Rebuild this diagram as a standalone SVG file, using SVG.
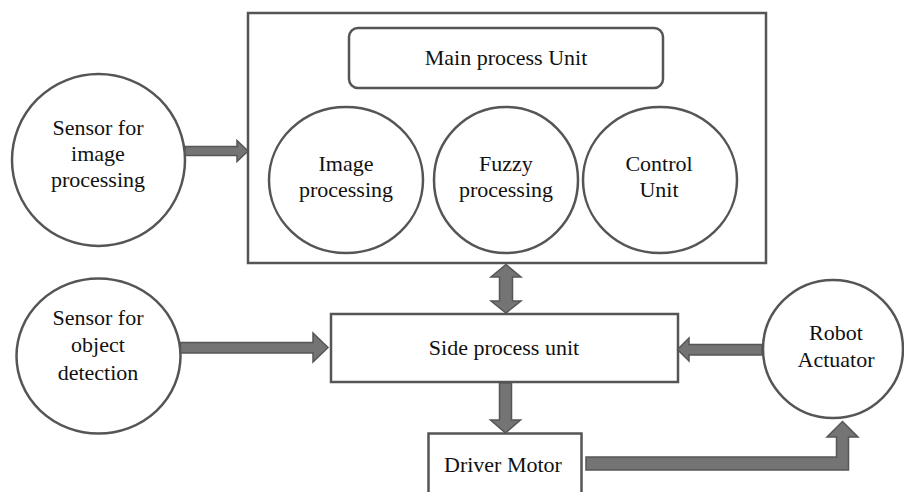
<svg xmlns="http://www.w3.org/2000/svg" width="904" height="492" viewBox="0 0 904 492">
<defs>
<style>
.box{fill:#ffffff;stroke:#555555;stroke-width:2.5}
.arr{fill:#747474;stroke:#565656;stroke-width:1.5;stroke-linejoin:miter}
text{font-family:"Liberation Serif","Times New Roman",serif;font-size:22px;fill:#111111;text-anchor:middle}
</style>
</defs>
<rect width="904" height="492" fill="#ffffff"/>
<g id="main-box">
<rect class="box" x="248" y="13" width="518" height="250"/>
</g>
<g id="main-process-unit">
<rect class="box" x="349" y="28" width="314" height="60" rx="9"/>
<text x="506" y="65">Main process Unit</text>
</g>
<g id="image-processing">
<ellipse class="box" cx="346" cy="180" rx="77" ry="73"/>
<text x="346" y="171">Image</text>
<text x="346" y="197">processing</text>
</g>
<g id="fuzzy-processing">
<ellipse class="box" cx="506" cy="180" rx="72" ry="73"/>
<text x="506" y="171">Fuzzy</text>
<text x="506" y="197">processing</text>
</g>
<g id="control-unit">
<ellipse class="box" cx="660" cy="180" rx="77" ry="73"/>
<text x="659" y="171">Control</text>
<text x="659" y="197">Unit</text>
</g>
<g id="sensor-image">
<ellipse class="box" cx="98.5" cy="160" rx="86.5" ry="86"/>
<text x="98" y="135">Sensor for</text>
<text x="98" y="161">image</text>
<text x="98" y="187">processing</text>
</g>
<g id="sensor-object">
<ellipse class="box" cx="98.5" cy="356" rx="82" ry="77.5"/>
<text x="98" y="325">Sensor for</text>
<text x="98" y="352">object</text>
<text x="98" y="380">detection</text>
</g>
<g id="side-process-unit">
<rect class="box" x="331" y="314" width="347" height="68"/>
<text x="504" y="355">Side process unit</text>
</g>
<g id="driver-motor">
<rect class="box" x="428.5" y="433.5" width="153" height="70"/>
<text x="503" y="472">Driver Motor</text>
</g>
<g id="robot-actuator">
<ellipse class="box" cx="833" cy="349" rx="70" ry="69"/>
<text x="836" y="340">Robot</text>
<text x="836" y="367">Actuator</text>
</g>
<g id="connectors">
<polygon class="arr" points="185,146.5 237,146.5 237,140.5 248,151 237,161.5 237,155.5 185,155.5"/>
<polygon class="arr" points="180.5,342.5 313,342.5 313,333 328,347.5 313,362 313,353 180.5,353"/>
<polygon class="arr" points="762,344.5 689,344.5 689,338 677.5,349.5 689,361 689,355 762,355"/>
<polygon class="arr" points="506,264.5 521,277 512.5,277 512.5,301 521,301 506,313 491,301 499.5,301 499.5,277 491,277"/>
<polygon class="arr" points="499.5,383 511.5,383 511.5,420 520.5,420 505.5,433 490.5,420 499.5,420"/>
<polygon class="arr" points="586,457 836.5,457 836.5,437 827,437 842.5,421.5 858,437 848.5,437 848.5,470 586,470"/>
</g>
</svg>
